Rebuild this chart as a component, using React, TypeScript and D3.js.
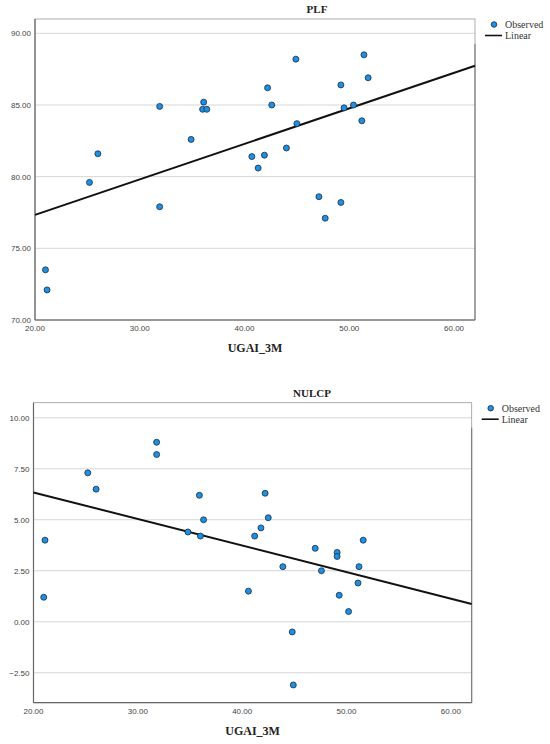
import React from 'react';
import * as d3 from 'd3';

// UGAI_3M values, shared by both panels
const ugai = [21.0, 21.15, 25.2, 26.0, 31.9, 31.9, 34.9, 36.0, 36.1, 36.4, 40.7, 41.3, 41.9, 42.2, 42.6, 44.0, 44.9, 45.0, 47.1, 47.7, 49.2, 49.2, 49.5, 50.4, 51.2, 51.4, 51.8];
const plf = [73.5, 72.1, 79.6, 81.6, 84.9, 77.9, 82.6, 84.7, 85.2, 84.7, 81.4, 80.6, 81.5, 86.2, 85.0, 82.0, 88.2, 83.7, 78.6, 77.1, 78.2, 86.4, 84.8, 85.0, 83.9, 88.5, 86.9];
const nulcpX = [20.98, 21.1, 25.2, 26.0, 31.8, 31.8, 34.8, 35.9, 36.0, 36.3, 40.6, 41.2, 41.8, 42.2, 42.5, 43.9, 44.8, 44.9, 47.0, 47.6, 49.1, 49.1, 49.3, 50.2, 51.1, 51.2, 51.6];
const nulcp = [1.2, 4.0, 7.3, 6.5, 8.8, 8.2, 4.4, 6.2, 4.2, 5.0, 1.5, 4.2, 4.6, 6.3, 5.1, 2.7, -0.5, -3.1, 3.6, 2.5, 3.4, 3.2, 1.3, 0.5, 1.9, 2.7, 4.0];

const xTicks = [20, 30, 40, 50, 60];
const plfTicks = [70, 75, 80, 85, 90];
const nulcpTicks = [-2.5, 0, 2.5, 5, 7.5, 10];

// linear fit coefficients (intercept, slope)
const plfFit = [72.38, 0.2477];
const nulcpFit = [8.944, -0.1302];

interface PanelProps {
  title: string;
  xs: number[];
  ys: number[];
  fit: number[];
  yTicks: number[];
  yDomain: [number, number];
  box: { left: number; right: number; top: number; bottom: number };
  titleX: number;
}

const serif = '"Liberation Serif", "Times New Roman", serif';
const sans = '"Liberation Sans", Arial, sans-serif';

const Panel = ({ title, xs, ys, fit, yTicks, yDomain, box, titleX }: PanelProps) => {
  const x = d3.scaleLinear().domain([20, 62]).range([box.left, box.right]);
  const y = d3.scaleLinear().domain(yDomain).range([box.bottom, box.top]);
  const fmt = (v: number) => (v < 0 ? '\u2212' + Math.abs(v).toFixed(2) : v.toFixed(2));

  const fitLine = d3.line<number>()
    .x(d => x(d))
    .y(d => y(fit[0] + fit[1] * d));

  return (
    <g>
      <text x={titleX} y={box.top - 6} textAnchor="middle" fontFamily={serif} fontWeight="bold" fontSize={11} fill="#222">{title}</text>

      {/* grid */}
      {yTicks.map(t => (
        <line key={t} x1={box.left} x2={box.right} y1={y(t)} y2={y(t)} stroke="#d6d6d6" strokeWidth={1} />
      ))}

      {/* frame */}
      <rect x={box.left} y={box.top} width={box.right - box.left} height={box.bottom - box.top} fill="none" stroke="#999" strokeWidth={0.8} />
      <line x1={box.right} x2={box.right} y1={box.top + 25} y2={box.bottom} stroke="#777" strokeWidth={1.1} />
      <line x1={box.left} x2={box.left} y1={box.top} y2={box.bottom} stroke="#666" strokeWidth={1.2} />
      <line x1={box.left} x2={box.right} y1={box.bottom} y2={box.bottom} stroke="#666" strokeWidth={1.2} />

      {/* y tick labels */}
      {yTicks.map(t => (
        <text key={t} x={box.left - 4} y={y(t) + 3} textAnchor="end" fontFamily={sans} fontSize={8} fill="#444">{fmt(t)}</text>
      ))}
      {/* x tick labels */}
      {xTicks.map(t => (
        <text key={t} x={x(t)} y={box.bottom + 11} textAnchor="middle" fontFamily={sans} fontSize={8} fill="#444">{fmt(t)}</text>
      ))}

      <text x={(box.left + box.right) / 2} y={box.bottom + 32} textAnchor="middle" fontFamily={serif} fontWeight="bold" fontSize={12} fill="#222">UGAI_3M</text>

      {/* fit line */}
      <path d={fitLine(x.domain()) || ''} fill="none" stroke="#111" strokeWidth={2} />

      {/* points */}
      {xs.map((v, i) => (
        <circle key={i} cx={x(v)} cy={y(ys[i])} r={3} fill="#1f8fe0" stroke="#1b2b45" strokeWidth={0.8} />
      ))}

      {/* legend */}
      <circle cx={box.right + 19} cy={box.top + 5.5} r={2.8} fill="#1f8fe0" stroke="#1b2b45" strokeWidth={0.8} />
      <text x={box.right + 30} y={box.top + 9} fontFamily={serif} fontSize={10} fill="#333">Observed</text>
      <line x1={box.right + 10} x2={box.right + 27} y1={box.top + 16.5} y2={box.top + 16.5} stroke="#111" strokeWidth={1.6} />
      <text x={box.right + 30} y={box.top + 20} fontFamily={serif} fontSize={10} fill="#333">Linear</text>
    </g>
  );
};

export default function App() {
  return (
    <svg width={550} height={744} style={{ position: 'absolute', left: 0, top: 0, background: '#fff' }}>
      <rect width={550} height={744} fill="#fff" />
      <Panel
        title="PLF"
        xs={ugai}
        ys={plf}
        fit={plfFit}
        yTicks={plfTicks}
        yDomain={[70, 91]}
        box={{ left: 35, right: 475, top: 19, bottom: 320 }}
        titleX={317}
      />
      <Panel
        title="NULCP"
        xs={nulcpX}
        ys={nulcp}
        fit={nulcpFit}
        yTicks={nulcpTicks}
        yDomain={[-3.97, 10.74]}
        box={{ left: 33.5, right: 471.7, top: 402.7, bottom: 702.7 }}
        titleX={312}
      />
    </svg>
  );
}
